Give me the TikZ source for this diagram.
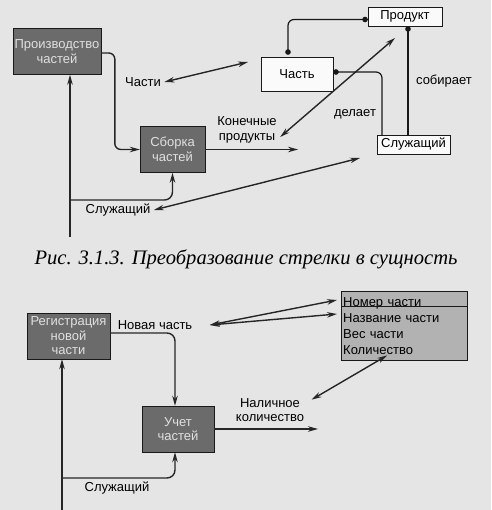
\documentclass[tikz,border=0pt]{standalone}
\usepackage{fontspec}
\setmainfont{Liberation Sans}
\newfontfamily\capfont{Liberation Serif}
\usetikzlibrary{arrows.meta}

\begin{document}
\begin{tikzpicture}[x=1pt,y=-1pt,
	font=\fontsize{13}{14.5}\selectfont,
	proc/.style={draw=black!90, fill=black!58, text=black!12, align=center, inner sep=0pt, minimum height=46pt},
	ent/.style={draw=black!90, fill=black!2, inner sep=0pt},
	flow/.style={draw=black!85, line width=1.4pt, -{Stealth[length=10pt,width=5.5pt]}},
	both/.style={draw=black!85, line width=1.4pt, {Stealth[length=10pt,width=5.5pt]}-{Stealth[length=10pt,width=5.5pt]}},
	rel/.style={draw=black!90, line width=1.2pt, rounded corners=6pt}]
	\fill[black!10] (0,0) rectangle (491,510);
	\useasboundingbox (0,0) rectangle (491,510);

	% upper picture
	\node[proc, minimum width=88pt] (prodbox) at (57,51.5) {Производство\\частей};
	\node[proc, minimum width=65pt] (asmbox) at (172.5,149.5) {Сборка\\частей};
	\node[ent, minimum width=72pt, minimum height=34pt] (part) at (297,74) {Часть};
	\node[ent, minimum width=74pt, minimum height=19pt] (product) at (405,16.5) {Продукт};
	\node[ent, minimum width=73pt, minimum height=19pt] (worker) at (413.5,144.5) {Служащий};

	\node (lparts) at (143,82) {Части};
	\node[align=center] (lfinal) at (247,130) {Конечные\\продукты};
	\node (lworker) at (118,210) {Служащий};
	\node (lmakes) at (355,114) {делает};
	\node (lassem) at (444,81) {собирает};

	\coordinate (in1) at (70,237);
	\coordinate (br1) at (70,200);
	\coordinate (e1) at (248,62);
	\coordinate (e2) at (298,148);
	\coordinate (e3) at (395,38);
	\coordinate (e4) at (360,158);

	\draw[flow, rounded corners=6pt] ([yshift=-1.5pt]prodbox.east) -| ([xshift=-25pt]asmbox.west) -- (asmbox.west);
	\draw[flow] (in1) -- (in1 |- prodbox.south);
	\draw[flow, rounded corners=8pt] (br1) -| (asmbox.south);
	\draw[both] (lparts.east) -- (e1);
	\draw[flow] (asmbox.east) -- (asmbox.east -| e2);
	\draw[both] ([yshift=-7pt]lfinal.east) -- (e3);
	\draw[both] (lworker.east) -- (e4);

	\draw[rel, {Circle[length=5.5pt]}-{Circle[length=5.5pt]}] ([shift={(-9pt,2pt)}]part.north) |- ([yshift=-3pt]product.west);
	\draw[rel, {Circle[length=5.5pt]}-] ([yshift=2pt]part.east) -| ([xshift=-31.5pt]worker.north);
	\draw[rel, {Circle[length=5.5pt]}-] ([xshift=3pt]product.south) -- ([xshift=-5.5pt]worker.north);

	\node[font=\capfont\itshape\fontsize{20.6}{24}\selectfont] (cap) at (246,259) {Рис. 3.1.3. Преобразование стрелки в сущность};

	% lower picture
	\node[proc, minimum width=83pt] (regbox) at (68.5,336) {Регистрация\\новой\\части};
	\node[proc, minimum width=72pt] (accbox) at (178,429) {Учет\\частей};
	\node[ent, fill=black!30, align=left, text width=122pt, minimum height=69pt, inner sep=2pt, anchor=north west,
		font=\fontsize{13}{16}\selectfont] (attrs) at (341,291) {Номер части\\Название части\\Вес части\\Количество};
	\draw[draw=black!90, line width=1pt] ([yshift=-15pt]attrs.north west) -- ([yshift=-15pt]attrs.north east);

	\node (lnew) at (155,325) {Новая часть};
	\node (lworker2) at (117,488) {Служащий};
	\node[align=center] (lstock) at (270,410) {Наличное\\количество};

	\coordinate (in2) at (62,512);
	\coordinate (br2) at (62,478);
	\coordinate (e5) at (318,428);

	\draw[flow, rounded corners=8pt] ([yshift=3pt]regbox.east) -| ([xshift=-3pt]accbox.north);
	\draw[flow] (in2) -- (in2 |- regbox.south);
	\draw[flow, rounded corners=8pt] (br2) -| ([xshift=-3pt]accbox.south);
	\draw[flow] (accbox.east) -- (accbox.east -| e5);
	\draw[both] ([shift={(4pt,-5pt)}]lstock.north east) -- ([shift={(-17pt,5pt)}]attrs.south);
	\draw[both] ([xshift=14pt]lnew.east) -- ([shift={(-4pt,-9pt)}]attrs.north west);
	\draw[both] ([xshift=14pt]lnew.east) -- ([shift={(-4pt,-23pt)}]attrs.north west);
\end{tikzpicture}
\end{document}
